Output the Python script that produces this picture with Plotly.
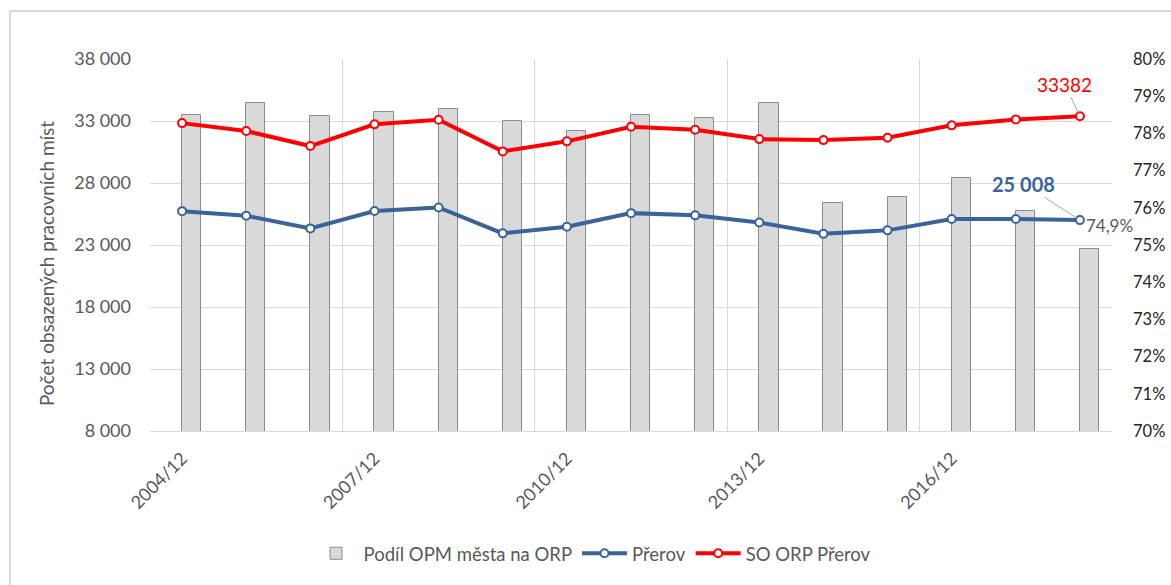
import plotly.graph_objects as go

# ---- data ----
periods = ["2004/12", "2005/12", "2006/12", "2007/12", "2008/12", "2009/12", "2010/12",
           "2011/12", "2012/12", "2013/12", "2014/12", "2015/12", "2016/12", "2017/12", "2018/12"]
podil_pct = [78.49, 78.83, 78.46, 78.58, 78.66, 78.33, 78.06, 78.49, 78.42, 78.82,
             76.12, 76.28, 76.80, 75.91, 74.9]
prerov = [25730, 25360, 24340, 25740, 26030, 23940, 24470, 25570, 25390, 24820,
          23900, 24180, 25090, 25100, 25008]
so_orp = [32830, 32190, 30980, 32730, 33100, 30550, 31360, 32530, 32290, 31540,
          31460, 31650, 32650, 33130, 33382]
label_every = 3
left_ticks = [8000, 13000, 18000, 23000, 28000, 33000, 38000]
right_ticks = [0.70, 0.71, 0.72, 0.73, 0.74, 0.75, 0.76, 0.77, 0.78, 0.79, 0.80]

FONT = "Lato"
GREY_TXT = "#595959"
BLUE = "#3A6399"
RED = "#FF0000"

idx = list(range(len(periods)))

fig = go.Figure()
fig.add_trace(go.Bar(
    x=idx, y=[v / 100 for v in podil_pct], name="Podíl OPM města na ORP",
    yaxis="y", offset=0, width=0.3,
    marker=dict(color="#D9D9D9", line=dict(color="#8C8C8C", width=1)),
))
fig.add_trace(go.Scatter(
    x=idx, y=prerov, name="Přerov", yaxis="y2", mode="lines+markers",
    line=dict(color=BLUE, width=4),
    marker=dict(symbol="circle", size=8, color="white", line=dict(color=BLUE, width=2)),
))
fig.add_trace(go.Scatter(
    x=idx, y=so_orp, name="SO ORP Přerov", yaxis="y2", mode="lines+markers",
    line=dict(color=RED, width=4),
    marker=dict(symbol="circle", size=8, color="white", line=dict(color=RED, width=2)),
))

n = len(periods)
tick_idx = idx[::label_every]
boundaries = [i - 0.5 for i in range(0, n + 1, label_every)]

fig.update_layout(
    width=1171, height=585,
    margin=dict(l=150, r=59, t=59, b=154, autoexpand=False),
    paper_bgcolor="white", plot_bgcolor="white",
    separators=", ",
    font=dict(family=FONT, size=18, color=GREY_TXT),
    showlegend=True,
    bargap=0,
    xaxis=dict(
        range=[-0.5, n - 0.5], tickvals=tick_idx, ticktext=[periods[i] for i in tick_idx],
        tickangle=-45, showgrid=False, zeroline=False, automargin=False,
        showline=True, linecolor="#D9D9D9", linewidth=1,
        ticks="", ticklabelstandoff=9,
        tickfont=dict(family=FONT, size=18, color=GREY_TXT),
        minor=dict(tickvals=boundaries, showgrid=True, gridcolor="#D9D9D9", gridwidth=1, ticks=""),
    ),
    yaxis=dict(
        side="right", range=[0.70, 0.80], tickvals=right_ticks, tickformat=".0%",
        showgrid=False, zeroline=False, showline=False, ticks="", automargin=False,
        ticklabelstandoff=20,
        tickfont=dict(family=FONT, size=16.5, color="#262626"),
    ),
    yaxis2=dict(
        side="left", overlaying="y", range=[8000, 38000], tickvals=left_ticks,
        tickformat=",d", showgrid=True, gridcolor="#D9D9D9", gridwidth=1, automargin=False,
        zeroline=False, showline=False, ticks="", ticklabelstandoff=18,
        tickfont=dict(family=FONT, size=18, color=GREY_TXT),
    ),
    legend=dict(
        orientation="h", x=0.46, xanchor="center", y=-0.33, yanchor="middle",
        font=dict(family=FONT, size=18.5, color=GREY_TXT),
        traceorder="normal", itemwidth=45, bgcolor="rgba(0,0,0,0)",
    ),
)

# y-axis title
fig.add_annotation(
    text="Počet obsazených pracovních míst", textangle=-90,
    xref="paper", yref="paper", x=-0.107, y=0.449, xanchor="center", yanchor="middle",
    showarrow=False, font=dict(family=FONT, size=19, color=GREY_TXT),
)

last = n - 1
# data labels
fig.add_annotation(
    x=last, y=so_orp[-1], xref="x", yref="y2", text=str(so_orp[-1]),
    showarrow=True, arrowhead=0, arrowwidth=1, arrowcolor="#A6A6A6",
    ax=-15, ay=-32, standoff=4,
    font=dict(family=FONT, size=19, color=RED),
)
fig.add_annotation(
    x=last, y=prerov[-1], xref="x", yref="y2",
    text="<b>" + f"{prerov[-1]:,}".replace(",", " ") + "</b>",
    showarrow=True, arrowhead=0, arrowwidth=1, arrowcolor="#A6A6A6",
    ax=-56, ay=-36, standoff=4,
    font=dict(family=FONT, size=20, color=BLUE),
)
fig.add_annotation(
    x=last, y=prerov[-1], xref="x", yref="y2",
    text=f"{podil_pct[-1]:.1f}%".replace(".", ","),
    showarrow=False, xanchor="left", yanchor="middle", xshift=4, yshift=-5,
    font=dict(family=FONT, size=17, color=GREY_TXT),
)

# outer chart border (partly outside the visible page like the reference)
fig.add_shape(type="rect", xref="paper", yref="paper",
              x0=-0.1455, y0=-0.6, x1=1.2, y1=1.129,
              line=dict(color="#D9D9D9", width=2), fillcolor="rgba(0,0,0,0)", layer="below")

fig.write_html(
    "out.html",
    config={"displayModeBar": False},
    post_script="document.body.style.margin='0';document.body.style.overflow='hidden';",
)
